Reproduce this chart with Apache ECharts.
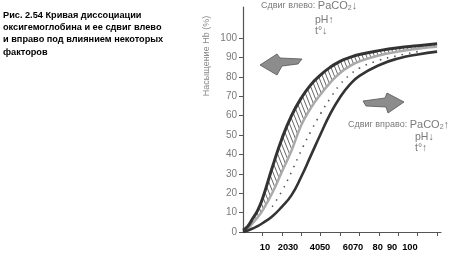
<!DOCTYPE html>
<html>
<head>
<meta charset="utf-8">
<script src="https://cdn.jsdelivr.net/npm/echarts@6/dist/echarts.min.js"></script>
<style>
html,body{margin:0;padding:0;background:#fff;}
#c{width:451px;height:256px;}
</style>
</head>
<body>
<div id="c"></div>
<script>
// PO2 sample points (shared by the three solid curves)
const xPO2 = [0, 2.5, 5, 7.5, 10, 15, 20, 25, 30, 35, 40, 45, 50, 55, 60, 70, 80, 90, 100];
// Curve shifted left (dark)
const leftCurve = [1, 3, 7, 11, 17, 33, 48, 60, 69, 76, 81, 85, 88, 90, 91.5, 93.5, 95, 96, 97];
// Normal curve (gray)
const normalCurve = [0.5, 2, 4.5, 7.5, 11, 20, 31, 42, 55, 64, 71, 77, 82, 85.5, 88, 91, 93, 94.5, 95.5];
// Curve shifted right (dark)
const rightCurve = [0, 0.8, 1.8, 3, 4.5, 8, 13, 19, 28.5, 39.5, 50.5, 61, 69.5, 76, 80.5, 86, 89.5, 91.5, 93];
// Dotted intermediate curve
const xDotted = [15, 20, 25, 30, 35, 40, 45, 50, 55, 60, 70, 80, 90];
const dottedCurve = [13, 21, 31, 42, 52, 61, 69, 76, 81, 84.5, 88.5, 91, 93];

// Axis ticks / labels
const yTickVals = [0, 10, 20, 30, 40, 50, 60, 70, 80, 90, 100];
const xTickVals = [10, 20, 30, 40, 50, 60, 70, 80, 90, 100];
const xTickLabels = ['10', '20', '30', '40', '50', '60', '70', '80', '90', '100'];
const xLabelPos = [11.3, 20.6, 25.8, 37.1, 42.3, 54.1, 59.3, 69.4, 76.8, 86.0];

const captionLines = ['Рис. 2.54 Кривая диссоциации', 'оксигемоглобина и ее сдвиг влево', 'и вправо под влиянием некоторых', 'факторов'];
const yName = 'Насыщение Hb (%)';

const pair = (xs, ys) => xs.map((x, i) => [x, ys[i]]);

// hatch pattern
const pc = document.createElement('canvas');
pc.width = 4; pc.height = 10;
const g = pc.getContext('2d');
g.fillStyle = '#fff'; g.fillRect(0, 0, 4, 10);
g.strokeStyle = '#555'; g.lineWidth = 0.9;
for (let k = -1; k <= 1; k++) { g.beginPath(); g.moveTo(k * 4, 0); g.lineTo(k * 4 + 4, 10); g.stroke(); }

const chart = echarts.init(document.getElementById('c'), null, {renderer: 'canvas'});
const gray = '#7a7a7a';
const caption = captionLines.map((t, i) => ({
  type: 'text', left: 3, top: 11 + i * 12.2, z: 100,
  style: {text: t, fill: '#000', font: 'bold 9.2px "Liberation Sans", Arial, sans-serif'}
}));
const richStyle = {
  a: {fill: gray, fontSize: 9, fontFamily: 'Liberation Sans'},
  b: {fill: gray, fontSize: 11, fontFamily: 'Liberation Sans'},
  s: {fill: gray, fontSize: 7, fontFamily: 'Liberation Sans', padding: [5, 0, 0, 0]}
};

chart.setOption({
  animation: false,
  backgroundColor: '#fff',
  grid: {left: 243, right: 10, top: 7, bottom: 24, containLabel: false},
  xAxis: {
    type: 'value', min: 0, max: 102,
    axisLine: {lineStyle: {color: '#555', width: 1.2}},
    axisTick: {customValues: xTickVals, length: 4, lineStyle: {color: '#555'}},
    axisLabel: {
      customValues: xLabelPos, margin: 11,
      formatter: v => { const i = xLabelPos.indexOf(v); return i >= 0 ? xTickLabels[i] : ''; },
      color: '#000', fontWeight: 'bold', fontSize: 9.3,
      fontFamily: '"Liberation Sans", Arial, sans-serif'
    },
    splitLine: {show: false}
  },
  yAxis: {
    type: 'value', min: 0, max: 116,
    axisLine: {show: true, lineStyle: {color: '#555', width: 1.2}},
    axisTick: {show: true, customValues: yTickVals, length: 4, lineStyle: {color: '#555'}},
    axisLabel: {customValues: yTickVals, margin: 6, color: gray, fontSize: 10, fontFamily: 'Liberation Sans'},
    splitLine: {show: false}
  },
  graphic: caption.concat([
    {type: 'rect', z: 2, shape: {x: 437, y: 30, width: 6, height: 200}, style: {fill: '#fff'}},
    {type: 'text', x: 207, y: 56, rotation: Math.PI / 2, z: 100,
     style: {text: yName, fill: '#888', font: '9px "Liberation Sans", sans-serif', align: 'center', verticalAlign: 'middle'}},
    {type: 'text', left: 261, top: 0, z: 100,
     style: {text: '{a|Сдвиг влево: }{b|PaCO}{s|2}{b|↓}', rich: richStyle}},
    {type: 'text', left: 315, top: 15, z: 100, style: {text: 'pH↑', fill: gray, font: '10.5px "Liberation Sans"'}},
    {type: 'text', left: 315, top: 26, z: 100, style: {text: 't°↓', fill: gray, font: '10.5px "Liberation Sans"'}},
    {type: 'text', left: 348, top: 119, z: 100,
     style: {text: '{a|Сдвиг вправо: }{b|PaCO}{s|2}{b|↑}', rich: richStyle}},
    {type: 'text', left: 415, top: 132, z: 100, style: {text: 'pH↓', fill: gray, font: '10.5px "Liberation Sans"'}},
    {type: 'text', left: 415, top: 143, z: 100, style: {text: 't°↑', fill: gray, font: '10.5px "Liberation Sans"'}},
    {type: 'polygon', z: 100, shape: {points: [[260, 65], [277, 54], [280, 58], [302, 59], [298, 64], [282, 66], [277, 75]]},
     style: {fill: '#8c8c8c', stroke: '#555', lineWidth: 0.8}},
    {type: 'polygon', z: 100, shape: {points: [[363, 101], [385, 98], [387, 93], [404, 102], [388, 113], [386, 107], [366, 106]]},
     style: {fill: '#8c8c8c', stroke: '#555', lineWidth: 0.8}}
  ]),
  series: [
    {type: 'line', name: 'hatch', smooth: true, symbol: 'none', silent: true, z: 1,
     data: pair(xPO2, leftCurve), lineStyle: {width: 0},
     areaStyle: {color: {image: pc, repeat: 'repeat'}, opacity: 1}},
    {type: 'line', name: 'mask', smooth: true, symbol: 'none', silent: true, z: 1,
     data: pair(xPO2, normalCurve), lineStyle: {width: 0},
     areaStyle: {color: '#fff', opacity: 1}},
    {type: 'line', name: 'dotted', smooth: true, symbol: 'none', z: 3,
     data: pair(xDotted, dottedCurve), lineStyle: {color: '#555', width: 1.6, type: [1.5, 6]}},
    {type: 'line', name: 'normal', smooth: true, symbol: 'none', z: 3,
     data: pair(xPO2, normalCurve), lineStyle: {color: '#aaa', width: 2.5}},
    {type: 'line', name: 'right', smooth: true, symbol: 'none', z: 3,
     data: pair(xPO2, rightCurve), lineStyle: {color: '#333', width: 2.6}},
    {type: 'line', name: 'left', smooth: true, symbol: 'none', z: 3,
     data: pair(xPO2, leftCurve), lineStyle: {color: '#333', width: 3}}
  ]
});
</script>
</body>
</html>
